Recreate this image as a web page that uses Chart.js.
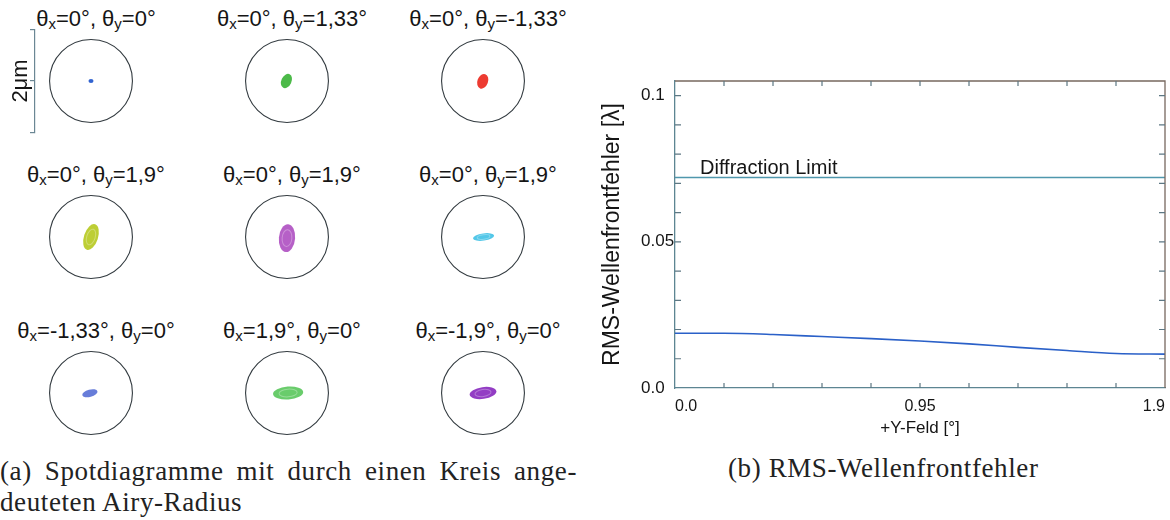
<!DOCTYPE html>
<html>
<head>
<meta charset="utf-8">
<script src="https://cdn.jsdelivr.net/npm/chart.js@4.4.0/dist/chart.umd.min.js"></script>
<style>
  body { margin:0; width:1170px; height:520px; background:#fff; position:relative; overflow:hidden;
         font-family:"Liberation Sans", Arial, sans-serif; color:#151515; }
  canvas { position:absolute; }
  .ttl { position:absolute; width:220px; text-align:center; font-size:22px; line-height:24px; white-space:nowrap; }
  .ttl sub { font-size:15px; vertical-align:-3px; line-height:0; }
  .cap { position:absolute; font-family:"Liberation Serif", "Times New Roman", serif; font-size:27px;
         letter-spacing:0.6px; line-height:31px; color:#222; }
</style>
</head>
<body>
<div class="cap" style="left:0; top:456px; width:577px; text-align:justify; text-align-last:justify;">(a) Spotdiagramme mit durch einen Kreis ange-</div>
<div class="cap" style="left:0; top:487px;">deuteten Airy-Radius</div>
<div class="cap" style="left:728px; top:453px;">(b) RMS-Wellenfrontfehler</div>

<script>
// Spotdiagramme: Feldwinkel je Feld (3x3)
const fieldX = ['0°', '0°', '0°', '0°', '0°', '0°', '-1,33°', '1,9°', '-1,9°'];
const fieldY = ['0°', '1,33°', '-1,33°', '1,9°', '1,9°', '1,9°', '0°', '0°', '0°'];
const airyRadius = 0.74;   // µm
const scaleBarLabel = '2μm';

// Spotlage und -form in µm, Winkel in Grad
const spotX = [0, -0.01, -0.005, 0, 0, 0.01, -0.02, 0.02, 0];
const spotY = [0, 0, -0.005, 0, -0.02, 0, -0.005, 0, 0];
const spotMajor = [0.045, 0.135, 0.135, 0.24, 0.25, 0.19, 0.14, 0.27, 0.24];
const spotMinor = [0.035, 0.09, 0.095, 0.125, 0.145, 0.065, 0.065, 0.115, 0.105];
const spotAngle = [0, 65, 70, 72, 85, 8, 15, 4, 8];

// RMS-Wellenfrontfehler ueber dem Feld
const fieldDeg = [0, 0.19, 0.38, 0.57, 0.76, 0.95, 1.14, 1.33, 1.52, 1.71, 1.9];
const rmsWavefront = [0.0187, 0.0187, 0.0183, 0.0176, 0.0169, 0.0161, 0.0151, 0.0139, 0.0128, 0.0118, 0.0116];
const diffractionLimit = 0.072;
const diffractionLabel = 'Diffraction Limit';
const xTickLabels = ['0.0', '0.95', '1.9'];
const yTickLabels = ['0.0', '0.05', '0.1'];

const spotColors = ['#1f56cc', '#3db43a', '#ec2a20', '#b7ca24', '#b053c2', '#44c2e6', '#5a72d6', '#5cc85e', '#8a2dbf'];
const FONT = '"Liberation Sans", Arial, sans-serif';
Chart.defaults.font.family = FONT;
Chart.defaults.color = '#151515';

const colX = [91, 287, 483];
const rowY = [80.5, 236.5, 393];

// Plugin: Airy-Kreis und Spot-Ellipse
const spotPlugin = {
  id: 'spot',
  afterDatasetsDraw(chart, args, opts) {
    const ctx = chart.ctx;
    const xs = chart.scales.x, ys = chart.scales.y;
    const cx = xs.getPixelForValue(0), cy = ys.getPixelForValue(0);
    const r = xs.getPixelForValue(airyRadius) - cx;
    ctx.save();
    ctx.beginPath();
    ctx.arc(cx, cy, r, 0, Math.PI * 2);
    ctx.strokeStyle = '#333b40';
    ctx.lineWidth = 1.1;
    ctx.stroke();

    const pt = chart.getDatasetMeta(0).data[0];
    const a = xs.getPixelForValue(spotMajor[opts.i]) - cx;
    const b = xs.getPixelForValue(spotMinor[opts.i]) - cx;
    ctx.translate(pt.x, pt.y);
    ctx.rotate(-spotAngle[opts.i] * Math.PI / 180);
    ctx.beginPath();
    ctx.ellipse(0, 0, a, b, 0, 0, Math.PI * 2);
    ctx.fillStyle = spotColors[opts.i];
    ctx.globalAlpha = 0.92;
    ctx.fill();
    if (a > 10) {
      ctx.globalAlpha = 0.3;
      ctx.strokeStyle = '#ffffff';
      ctx.lineWidth = 1;
      ctx.beginPath();
      ctx.ellipse(0, 0, a * 0.6, b * 0.6, 0, 0, Math.PI * 2);
      ctx.stroke();
    }
    ctx.restore();
  }
};

for (let i = 0; i < 9; i++) {
  const cx = colX[i % 3], cy = rowY[Math.floor(i / 3)];
  const first = i === 0;

  const t = document.createElement('div');
  t.className = 'ttl';
  t.style.left = (cx + 5 - 110) + 'px';
  t.style.top = (cy - 74) + 'px';
  t.innerHTML = 'θ<sub>x</sub>=' + fieldX[i] + ', θ<sub>y</sub>=' + fieldY[i];
  document.body.appendChild(t);

  const cv = document.createElement('canvas');
  const w = first ? 147 : 112;
  cv.width = w; cv.height = 118;
  cv.style.left = (cx - 56 - (first ? 35 : 0)) + 'px';
  cv.style.top = (cy - 59) + 'px';
  document.body.appendChild(cv);

  new Chart(cv, {
    type: 'scatter',
    data: { datasets: [{ data: [{ x: spotX[i], y: spotY[i] }], pointRadius: 0 }] },
    plugins: [spotPlugin],
    options: {
      responsive: false, animation: false, events: [],
      layout: { padding: { top: 3, bottom: 3, left: 0, right: 0 } },
      plugins: { legend: { display: false }, tooltip: { enabled: false }, spot: { i: i } },
      scales: {
        x: { type: 'linear', min: -1, max: 1, display: false },
        y: first ? {
          min: -1, max: 1, position: 'left',
          border: { display: true, color: '#6b8794', width: 1.2 },
          grid: { drawOnChartArea: false, drawTicks: true, tickLength: 5, color: '#6b8794', lineWidth: 1.2 },
          ticks: { stepSize: 2, padding: 0, callback: () => '' },
          title: { display: true, text: scaleBarLabel, font: { size: 22 }, color: '#151515', padding: { top: 8, bottom: 0 } },
          afterFit(s) { s.width = 35; }
        } : { min: -1, max: 1, display: false }
      }
    }
  });
}

// Rahmen und nach innen zeigende Ticks
const framePlugin = {
  id: 'frame',
  afterDraw(chart) {
    const ctx = chart.ctx;
    const { left, right, top, bottom } = chart.chartArea;
    const xs = chart.scales.x, ys = chart.scales.y;
    ctx.save();
    ctx.lineWidth = 1.3;
    ctx.strokeStyle = '#77685f';
    ctx.beginPath();
    ctx.moveTo(left, top); ctx.lineTo(right, top); ctx.lineTo(right, bottom);
    ctx.stroke();
    ctx.strokeStyle = '#5d7783';
    ctx.lineWidth = 1.2;
    ctx.beginPath();
    xs.ticks.forEach(t => {
      if (t.value <= 0.001 || t.value >= 1.899) return;
      const px = xs.getPixelForValue(t.value);
      ctx.moveTo(px, bottom); ctx.lineTo(px, bottom - 5);
      ctx.moveTo(px, top); ctx.lineTo(px, top + 5);
    });
    ys.ticks.forEach(t => {
      if (t.value <= 0.0001) return;
      const py = ys.getPixelForValue(t.value);
      ctx.moveTo(left, py); ctx.lineTo(left + 6, py);
      ctx.moveTo(right, py); ctx.lineTo(right - 6, py);
    });
    ctx.stroke();
    ctx.restore();
  },
  afterDatasetsDraw(chart) {
    const ctx = chart.ctx;
    const xs = chart.scales.x, ys = chart.scales.y;
    ctx.save();
    ctx.font = '20px ' + FONT;
    ctx.fillStyle = '#151515';
    ctx.textBaseline = 'alphabetic';
    ctx.fillText(diffractionLabel, xs.getPixelForValue(0) + 25, ys.getPixelForValue(diffractionLimit) - 3);
    ctx.restore();
  }
};

const rc = document.createElement('canvas');
rc.width = 580; rc.height = 384;
rc.style.left = '590px'; rc.style.top = '66px';
document.body.appendChild(rc);

new Chart(rc, {
  type: 'scatter',
  data: {
    datasets: [
      {
        data: fieldDeg.map((x, k) => ({ x: x, y: rmsWavefront[k] })),
        showLine: true, borderColor: '#2a60c8', borderWidth: 1.6, pointRadius: 0,
        cubicInterpolationMode: 'monotone'
      },
      {
        data: [{ x: fieldDeg[0], y: diffractionLimit }, { x: fieldDeg[fieldDeg.length - 1], y: diffractionLimit }],
        showLine: true, borderColor: '#4f97ad', borderWidth: 1.6, pointRadius: 0
      }
    ]
  },
  plugins: [framePlugin],
  options: {
    responsive: false, animation: false, events: [],
    layout: { padding: { left: 51, top: 15, right: 5, bottom: 0 } },
    plugins: { legend: { display: false }, tooltip: { enabled: false } },
    scales: {
      x: {
        type: 'linear', min: 0, max: 1.9,
        border: { display: true, color: '#5d8592', width: 1.3 },
        grid: { display: false },
        ticks: {
          stepSize: 0.19, autoSkip: false, maxRotation: 0, align: 'inner', padding: 1,
          font: { size: 16 }, color: '#151515',
          callback: (v, i) => i === 0 ? xTickLabels[0] : i === 5 ? xTickLabels[1] : i === 10 ? xTickLabels[2] : ''
        },
        title: { display: true, text: '+Y-Feld [°]', font: { size: 17 }, color: '#151515', padding: { top: 0, bottom: 11 } },
        afterFit(s) { s.height = 62; }
      },
      y: {
        min: 0, max: 0.105,
        border: { display: true, color: '#5d8592', width: 1.3 },
        grid: { display: false },
        ticks: {
          stepSize: 0.01, includeBounds: false, autoSkip: false, crossAlign: 'far',
          font: { size: 17 }, color: '#151515',
          callback: (v, i) => i === 0 ? yTickLabels[0] : i === 5 ? yTickLabels[1] : i === 10 ? yTickLabels[2] : ''
        },
        title: { display: true, text: 'RMS-Wellenfrontfehler [λ]', font: { size: 23 }, color: '#151515', padding: { top: -42, bottom: 0 } },
        afterFit(s) { s.width = 34; }
      }
    }
  }
});
</script>
</body>
</html>
